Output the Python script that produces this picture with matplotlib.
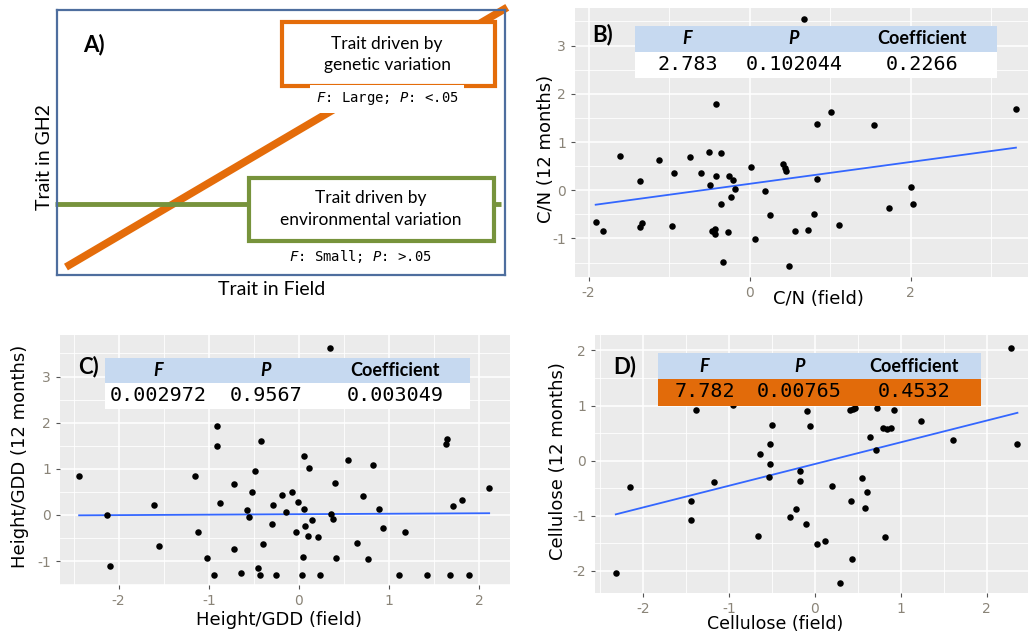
import matplotlib.pyplot as plt
from matplotlib.patches import Rectangle
import numpy as np

plt.rcParams['axes.unicode_minus'] = False
plt.rcParams['mathtext.fontset'] = 'custom'
plt.rcParams['mathtext.it'] = 'DejaVu Sans Mono:italic'
plt.rcParams['mathtext.rm'] = 'DejaVu Sans Mono'

# ---- panel A (schematic) ----
field_range = [0.02, 1.005]
genetic_gh2 = [0.03, 1.01]
env_gh2 = [0.268, 0.268]

# ---- panel B: C/N ----
cn_field = [0.675, -0.414, 1.006, 0.836, 1.549, 3.31, -1.607, -1.126, -0.737, -0.505,
            -0.356, -0.94, -0.605, -0.414, -0.261, -0.207, -1.358, -0.489, -0.178, 0.021,
            0.41, 0.435, 0.455, 0.836, 0.195, -0.356, -0.228, -1.913, -1.822, -1.358,
            -1.333, -0.969, -0.472, -0.431, -0.431, -0.269, 0.253, 0.062, -0.327, 0.489,
            0.559, 0.72, 0.803, 1.11, 1.731, 2.012, 2.029]
cn_gh2 = [3.55, 1.795, 1.63, 1.38, 1.36, 1.68, 0.707, 0.63, 0.68, 0.80,
          0.776, 0.347, 0.367, 0.298, 0.298, 0.222, 0.194, 0.104, 0.028, 0.49,
          0.54, 0.464, 0.395, 0.243, -0.021, -0.284, -0.139, -0.651, -0.838, -0.769,
          -0.672, -0.748, -0.838, -0.804, -0.915, -0.866, -0.506, -1.012, -1.497, -1.573,
          -0.838, -0.825, -0.485, -0.72, -0.36, 0.076, -0.284]
cn_fit = (0.133, 0.2266)  # intercept, slope
cn_stats = ['2.783', '0.102044', '0.2266']

# ---- panel C: Height/GDD ----
hg_field = [0.343, -0.912, -0.912, -0.421, 1.644, 1.629, -2.438, -1.156, -0.488, 0.055,
            0.111, 0.547, 0.82, -0.72, -0.517, 0.395, 0.713, 2.109, -1.607, -0.872,
            -0.192, -0.081, -0.011, -0.284, -0.572, -0.148, 0.055, 1.703, 1.81, 0.886,
            -2.124, -0.558, 0.355, 0.38, 0.14, -0.299, 0.066, -0.03, 0.1, 0.207,
            0.927, 1.171, -1.115, -1.548, -0.395, 0.643, -0.72, -2.094, -1.019, 0.041,
            0.41, 0.765, -0.451, -0.938, -0.639, -0.436, -0.259, 0.03, 0.233, 1.104,
            1.415, 1.673, 1.88]
hg_gh2 = [3.61, 1.935, 1.487, 1.596, 1.653, 1.538, 0.852, 0.852, 0.96, 1.278,
          1.011, 1.199, 1.09, 0.664, 0.505, 0.693, 0.404, 0.585, 0.217, 0.267,
          0.433, 0.505, 0.289, 0.217, 0.108, 0.058, 0.137, 0.188, 0.318, 0.137,
          0.0, -0.051, 0.029, -0.079, -0.108, -0.202, -0.238, -0.368, -0.448, -0.477,
          -0.289, -0.368, -0.368, -0.664, -0.635, -0.606, -0.744, -1.112, -0.924, -0.903,
          -0.924, -0.953, -1.162, -1.30, -1.249, -1.30, -1.30, -1.30, -1.30, -1.30,
          -1.30, -1.30, -1.30]
hg_fit = (0.015, 0.01)
hg_stats = ['0.002972', '0.9567', '0.003049']

# ---- panel D: Cellulose ----
cel_field = [2.287, -1.38, -0.093, 0.407, 0.438, 0.465, 0.725, 0.922, -0.496, -0.054,
             1.236, 0.795, 0.833, 0.88, 0.636, 1.609, 2.357, -0.523, -0.643, 0.713,
             -0.523, -0.174, -0.535, -0.174, -1.171, -2.151, 0.202, 0.543, 0.609, -1.446,
             0.415, 0.581, -0.225, -0.291, -0.109, -1.446, -0.667, 0.818, 0.019, 0.112,
             0.426, -2.318, 0.295, -0.95]
cel_gh2 = [2.048, 0.918, 0.90, 0.918, 0.93, 0.96, 0.955, 0.918, 0.653, 0.634,
           0.713, 0.598, 0.574, 0.592, 0.429, 0.369, 0.308, 0.308, 0.127, 0.193,
           -0.054, -0.193, -0.296, -0.363, -0.381, -0.483, -0.459, -0.32, -0.562, -0.725,
           -0.725, -0.864, -0.882, -1.027, -1.148, -1.069, -1.372, -1.39, -1.511, -1.45,
           -1.776, -2.036, -2.218, 1.01]
cel_fit = (-0.06, 0.394)
cel_stats = ['7.782', '0.00765', '0.4532']

W, H = 1028, 633
fig = plt.figure(figsize=(W / 100, H / 100), dpi=100)


def box(l, t, r, b):
    return [l / W, 1 - b / H, (r - l) / W, (b - t) / H]


def gg_axes(rect, xlim, ylim, xticks, yticks):
    ax = fig.add_axes(rect)
    ax.set_facecolor('#EBEBEB')
    ax.set_xticks(xticks)
    ax.set_yticks(yticks)
    dx = xticks[1] - xticks[0]
    dy = yticks[1] - yticks[0]
    ax.set_xticks(np.arange(xticks[0] - 1.5 * dx, xlim[1] + dx, dx), minor=True)
    ax.set_yticks(np.arange(yticks[0] - 1.5 * dy, ylim[1] + dy, dy), minor=True)
    ax.set_xlim(xlim)
    ax.set_ylim(ylim)
    ax.grid(which='major', color='white', lw=1.1)
    ax.grid(which='minor', color='white', lw=0.6)
    ax.tick_params(which='minor', length=0)
    ax.tick_params(which='major', length=3, width=0.8, color='#555555',
                   labelcolor='#8a8478', labelsize=10, pad=3.5)
    for s in ax.spines.values():
        s.set_visible(False)
    ax.set_axisbelow(True)
    return ax


def scatter_fit(ax, x, y, fit):
    ax.scatter(x, y, s=22, color='black', zorder=3, linewidths=0)
    xs = np.array([min(x), max(x)])
    ax.plot(xs, fit[0] + fit[1] * xs, color='#3366FF', lw=1.3, zorder=2)


def stats_table(bounds, top, mid, bottom, values, row_color):
    l, r = bounds[0], bounds[-1]
    fig.add_artist(Rectangle((l / W, 1 - mid / H), (r - l) / W, (mid - top) / H,
                             transform=fig.transFigure, facecolor='#C6D9F0', edgecolor='none', zorder=5))
    fig.add_artist(Rectangle((l / W, 1 - bottom / H), (r - l) / W, (bottom - mid) / H,
                             transform=fig.transFigure, facecolor=row_color, edgecolor='none', zorder=5))
    heads = [('F', 'italic'), ('P', 'italic'), ('Coefficient', 'normal')]
    for i in range(3):
        cx = (bounds[i] + bounds[i + 1]) / 2 / W
        fig.text(cx, 1 - (top + mid) / 2 / H, heads[i][0], family='Lato', weight='bold',
                 style=heads[i][1], fontsize=13, ha='center', va='center', zorder=6)
        fig.text(cx, 1 - (mid + bottom) / 2 / H + 0.001, values[i], family='DejaVu Sans Mono',
                 fontsize=14.5, ha='center', va='center', zorder=6)


# ---- A ----
axA = fig.add_axes(box(57, 10, 505, 275))
axA.set_xlim(0, 1)
axA.set_ylim(0, 1)
axA.set_xticks([])
axA.set_yticks([])
for s in axA.spines.values():
    s.set_color('#4E6E9E')
    s.set_linewidth(1.6)
axA.plot(field_range, genetic_gh2, color='#E46C0A', lw=5.5, solid_capstyle='butt', clip_on=False, zorder=2)
axA.plot([-0.004, 0.99], env_gh2, color='#77933C', lw=3.5, solid_capstyle='butt', clip_on=False, zorder=2)
axA.add_patch(Rectangle((0.502, 0.713), 0.476, 0.242, facecolor='white', edgecolor='#E46C0A', lw=3, zorder=3))
axA.add_patch(Rectangle((0.429, 0.128), 0.546, 0.238, facecolor='white', edgecolor='#77933C', lw=3, zorder=3))
axA.text(0.737, 0.832, 'Trait driven by\ngenetic variation', family='Lato', fontsize=12.5,
         ha='center', va='center', linespacing=1.4, zorder=4)
axA.text(0.701, 0.249, 'Trait driven by\nenvironmental variation', family='Lato', fontsize=12.5,
         ha='center', va='center', linespacing=1.4, zorder=4)
axA.text(0.737, 0.665, r'$F$: Large; $P$: <.05', family='DejaVu Sans Mono', fontsize=10,
         ha='center', va='center', zorder=4,
         bbox=dict(facecolor='white', edgecolor='none', pad=4))
axA.text(0.677, 0.068, r'$F$: Small; $P$: >.05', family='DejaVu Sans Mono', fontsize=10,
         ha='center', va='center', zorder=4)
axA.text(0.058, 0.868, 'A)', family='Lato', weight='bold', fontsize=16, ha='left', va='center')
fig.text(45 / W, 1 - 157 / H, 'Trait in GH2', family='Lato', fontsize=14, rotation=90, ha='center', va='center')
fig.text(272 / W, 1 - 290 / H, 'Trait in Field', family='Lato', fontsize=14, ha='center', va='center')

# ---- B ----
axB = gg_axes(box(575, 8, 1028, 277), (-2.17, 3.46), (-1.80, 3.78), [-2, 0, 2], [-1, 0, 1, 2, 3])
scatter_fit(axB, cn_field, cn_gh2, cn_fit)
stats_table([635, 740, 848, 997], 26, 52, 78, cn_stats, 'white')
fig.text(592 / W, 1 - 35 / H, 'B)', family='Lato', weight='bold', fontsize=16, ha='left', va='center')
fig.text(546 / W, 1 - 149 / H, 'C/N (12 months)', fontsize=13, rotation=90, ha='center', va='center')
fig.text(818 / W, 1 - 299 / H, 'C/N (field)', fontsize=13, ha='center', va='center')

# ---- C ----
axC = gg_axes(box(60, 335, 510, 585), (-2.65, 2.34), (-1.52, 3.90), [-2, -1, 0, 1, 2], [-1, 0, 1, 2, 3])
scatter_fit(axC, hg_field, hg_gh2, hg_fit)
stats_table([105, 212, 320, 470], 358, 383, 409, hg_stats, 'white')
fig.text(78 / W, 1 - 367 / H, 'C)', family='Lato', weight='bold', fontsize=16, ha='left', va='center')
fig.text(20 / W, 1 - 456 / H, 'Height/GDD (12 months)', fontsize=13, rotation=90, ha='center', va='center')
fig.text(279 / W, 1 - 620 / H, 'Height/GDD (field)', fontsize=13, ha='center', va='center')

# ---- D ----
axD = gg_axes(box(595, 335, 1028, 593), (-2.56, 2.48), (-2.40, 2.28), [-2, -1, 0, 1, 2], [-2, -1, 0, 1, 2])
scatter_fit(axD, cel_field, cel_gh2, cel_fit)
stats_table([658, 751, 848, 981], 353, 379, 406, cel_stats, '#E26B0A')
fig.text(613 / W, 1 - 367 / H, 'D)', family='Lato', weight='bold', fontsize=16, ha='left', va='center')
fig.text(558 / W, 1 - 461 / H, 'Cellulose (12 months)', fontsize=13, rotation=90, ha='center', va='center')
fig.text(775 / W, 1 - 624 / H, 'Cellulose (field)', fontsize=12.5, ha='center', va='center')

fig.savefig('out.png', dpi=100)
